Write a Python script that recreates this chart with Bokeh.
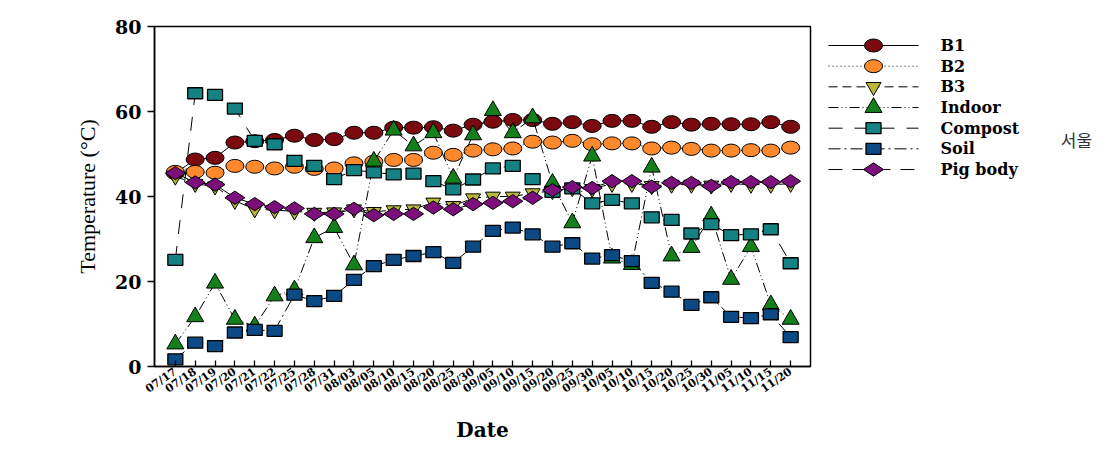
import math
from bokeh.plotting import figure
from bokeh.layouts import row
from bokeh.models import Range1d, FixedTicker
from bokeh.core.properties import value
from bokeh.embed import file_html
from bokeh.resources import INLINE

# ---------------- data ----------------
dates = ["07/17", "07/18", "07/19", "07/20", "07/21", "07/22", "07/25", "07/28",
         "07/31", "08/03", "08/05", "08/10", "08/15", "08/20", "08/25", "08/30",
         "09/05", "09/10", "09/15", "09/20", "09/25", "09/30", "10/05", "10/10",
         "10/15", "10/20", "10/25", "10/30", "11/05", "11/10", "11/15", "11/20"]
idx = list(range(len(dates)))

b1 = [45.5, 48.7, 49.1, 52.7, 53.0, 53.3, 54.3, 53.3, 53.5, 55.0, 55.0, 56.2,
      56.2, 56.3, 55.5, 56.9, 57.6, 58.0, 58.0, 57.1, 57.5, 56.6, 57.8, 57.8,
      56.4, 57.5, 56.9, 57.1, 57.0, 57.0, 57.5, 56.4]
b2 = [45.8, 45.8, 45.6, 47.2, 47.0, 46.6, 47.0, 46.5, 46.6, 47.8, 48.2, 48.6,
      48.6, 50.3, 49.8, 50.8, 51.1, 51.3, 52.9, 52.7, 53.1, 52.3, 52.5, 52.5,
      51.3, 51.5, 51.2, 50.8, 50.8, 50.9, 50.8, 51.5]
b3 = [44.7, 43.0, 42.4, 39.0, 37.0, 36.8, 36.5, 36.2, 36.3, 37.0, 36.4, 36.8,
      37.0, 38.6, 37.8, 39.6, 40.0, 40.0, 40.8, 41.3, 42.0, 41.8, 43.0, 43.0,
      42.5, 42.8, 42.8, 42.6, 43.0, 42.8, 42.8, 43.0]
indoor = [5.3, 11.7, 19.6, 11.1, 9.5, 16.6, 18.0, 30.3, 32.7, 23.9, 48.3, 55.6,
          51.9, 55.0, 44.3, 54.5, 60.2, 55.0, 58.5, 43.1, 33.8, 49.5, 25.5, 24.0,
          46.9, 26.0, 28.0, 35.4, 20.5, 28.2, 14.5, 11.1]
compost = [25.1, 64.3, 63.9, 60.7, 53.1, 52.3, 48.4, 47.2, 44.1, 46.2, 45.7, 45.2,
           45.4, 43.6, 41.7, 44.0, 46.6, 47.2, 44.1, 41.1, 41.9, 38.4, 39.2, 38.4,
           35.1, 34.5, 31.3, 33.5, 30.9, 31.1, 32.3, 24.3]
soil = [1.7, 5.6, 4.8, 8.0, 8.6, 8.4, 16.9, 15.4, 16.6, 20.4, 23.6, 25.1,
        26.0, 26.9, 24.4, 28.2, 31.9, 32.7, 31.1, 28.2, 29.0, 25.4, 26.2, 24.8,
        19.7, 17.6, 14.5, 16.3, 11.7, 11.4, 12.3, 6.9]
pig = [45.5, 43.3, 42.8, 39.7, 38.2, 37.5, 37.2, 35.9, 35.9, 37.1, 35.6, 35.9,
       35.9, 37.4, 37.0, 38.2, 38.5, 38.9, 39.7, 41.5, 42.2, 42.0, 43.6, 43.6,
       42.3, 43.2, 43.2, 42.5, 43.4, 43.4, 43.4, 43.6]

series_names = ["B1", "B2", "B3", "Indoor", "Compost", "Soil", "Pig body"]
y_ticks = [0, 20, 40, 60, 80]
side_note = "서울"

# ---------------- styles ----------------
SERIF = "DejaVu Serif"
colors = {
    "B1": "#7A0A10", "B2": "#FF8A2E", "B3": "#B8B836", "Indoor": "#13801C",
    "Compost": "#148282", "Soil": "#0B4A84", "Pig body": "#7D0F7D",
}
dashes = {
    "B1": "solid", "B2": "1 3", "B3": "9 5", "Indoor": "10 3 1 3 1 3",
    "Compost": "14 12", "Soil": "12 4 2 4", "Pig body": "14 10",
}


def draw_marker(fig, name, xs, ys, scale=1.0):
    c = colors[name]
    if name in ("B1", "B2"):
        fig.ellipse(xs, ys, width=18 * scale, height=13 * scale, width_units="screen",
                    height_units="screen", fill_color=c, line_color="black", line_width=1)
    elif name == "B3":
        fig.scatter(xs, ys, marker="inverted_triangle", size=15 * scale, fill_color=c,
                    line_color="black", line_width=1)
    elif name == "Indoor":
        fig.scatter(xs, ys, marker="triangle", size=17 * scale, fill_color=c,
                    line_color="black", line_width=1)
    elif name in ("Compost", "Soil"):
        fig.rect(xs, ys, width=15 * scale, height=11 * scale, width_units="screen",
                 height_units="screen", fill_color=c, line_color="black", line_width=1.3)
    else:
        fig.scatter(xs, ys, marker="diamond", angle=math.pi / 2, size=20 * scale,
                    fill_color=c, line_color="black", line_width=1)


p = figure(width=812, height=449, output_backend="svg", toolbar_location=None,
           x_range=Range1d(-1.05, 32.0), y_range=Range1d(0, 80),
           min_border_left=154, min_border_right=2, min_border_top=26,
           min_border_bottom=83)
p.grid.visible = False
p.outline_line_color = "black"
p.outline_line_width = 1.5
p.background_fill_color = "white"
p.border_fill_color = "white"

data = {"B1": b1, "B2": b2, "B3": b3, "Indoor": indoor, "Compost": compost,
        "Soil": soil, "Pig body": pig}

for name in series_names:
    ys = data[name]
    p.line(idx, ys, line_color="black", line_width=1, line_dash=dashes[name])
    draw_marker(p, name, idx, ys)

# axes
p.yaxis.ticker = FixedTicker(ticks=y_ticks)
p.yaxis.major_tick_out = 7
p.yaxis.major_tick_in = 0
p.yaxis.minor_tick_line_color = None
p.yaxis.axis_line_width = 1.5
p.yaxis.major_tick_line_width = 1.3
p.yaxis.major_label_text_font = SERIF
p.yaxis.major_label_text_font_style = "bold"
p.yaxis.major_label_text_font_size = "19px"
p.yaxis.major_label_text_color = "black"
p.yaxis.major_label_standoff = 6
p.yaxis.axis_label = "Temperature (\u00b0C)"
p.yaxis.axis_label_text_font = "Liberation Serif"
p.yaxis.axis_label_text_font_style = "normal"
p.yaxis.axis_label_text_font_size = "22px"
p.yaxis.axis_label_text_color = "black"
p.yaxis.axis_label_standoff = 12

p.xaxis.ticker = FixedTicker(ticks=idx)
p.xaxis.major_label_overrides = {i: d for i, d in zip(idx, dates)}
p.xaxis.major_tick_in = 6
p.xaxis.major_tick_out = 0
p.xaxis.minor_tick_line_color = None
p.xaxis.axis_line_width = 1.5
p.xaxis.major_tick_line_width = 1.3
p.xaxis.major_label_orientation = 0.6
p.xaxis.major_label_text_font = SERIF
p.xaxis.major_label_text_font_style = "bold"
p.xaxis.major_label_text_font_size = "11px"
p.xaxis.major_label_text_color = "black"
p.xaxis.major_label_standoff = 4
p.xaxis.axis_label = "Date"
p.xaxis.axis_label_text_font = SERIF
p.xaxis.axis_label_text_font_style = "bold"
p.xaxis.axis_label_text_font_size = "20px"
p.xaxis.axis_label_text_color = "black"
p.xaxis.axis_label_standoff = 14

# ---------------- legend panel (separate figure, pixel coordinates) ----------------
lf = figure(width=304, height=449, output_backend="svg", toolbar_location=None,
            x_range=Range1d(0, 304), y_range=Range1d(0, 340),
            min_border=0, min_border_left=0, min_border_right=0,
            min_border_top=0, min_border_bottom=0)
lf.axis.visible = False
lf.grid.visible = False
lf.outline_line_color = None
lf.background_fill_color = "white"
lf.border_fill_color = "white"

row_top, row_pitch = 321.0, 20.67
seg_x0, seg_x1, label_x = 16, 106, 128
for i, name in enumerate(series_names):
    yy = row_top - i * row_pitch
    lf.line([seg_x0, seg_x1], [yy, yy], line_color="black", line_width=1,
            line_dash=dashes[name])
    draw_marker(lf, name, [(seg_x0 + seg_x1) / 2], [yy], scale=1.0)
    lf.text([label_x], [yy], text=[name], text_font=value(SERIF),
            text_font_style="bold", text_font_size="16px", text_color="black",
            text_baseline="middle", text_align="left")

lf.text([264], [227], text=[side_note], text_font=value("Noto Sans CJK KR"),
        text_font_size="17px", text_color="#333333", text_align="center",
        text_baseline="middle")

layout = row(p, lf, spacing=0)
open("out.html", "w").write(file_html(layout, INLINE))
